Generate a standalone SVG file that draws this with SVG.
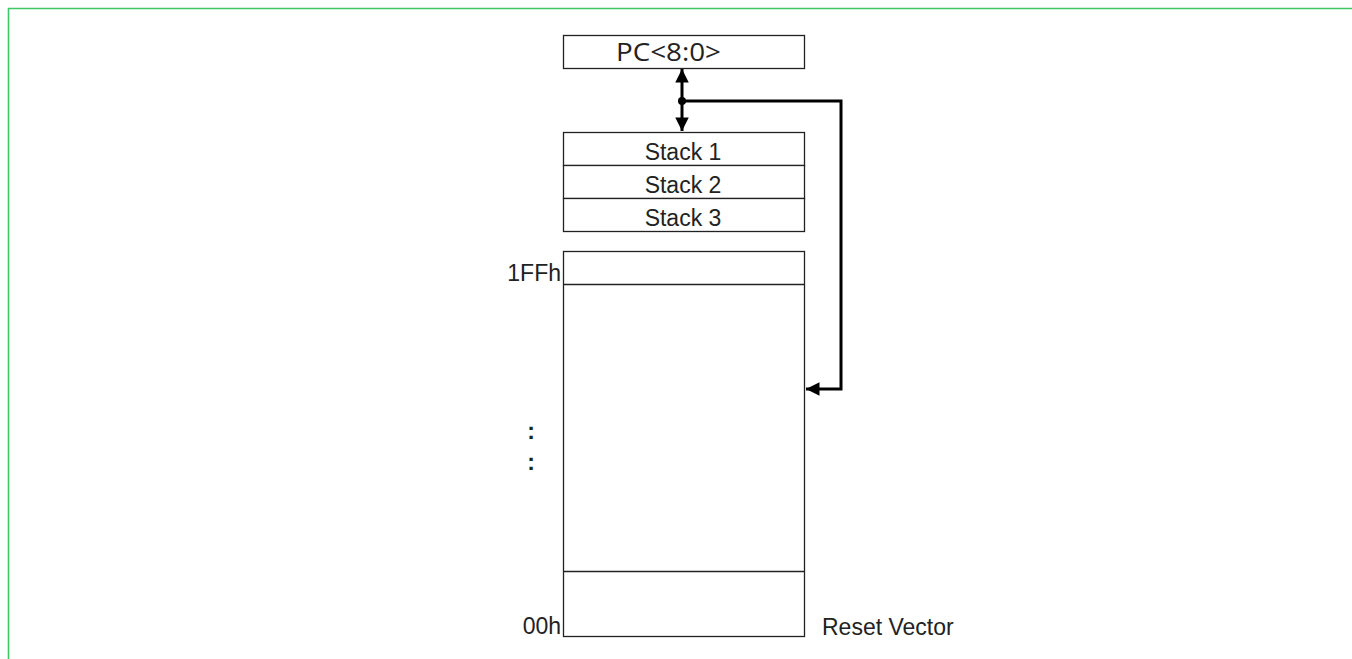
<svg xmlns="http://www.w3.org/2000/svg" width="1352" height="659" viewBox="0 0 1352 659">
<defs>
<style>
.box{fill:#fff;stroke:#222;stroke-width:1.3}
.t{font-family:"Liberation Sans",Arial,sans-serif;font-size:23px;fill:#222}
.pc{font-family:"Open Sans","Liberation Sans",sans-serif;font-size:26px;fill:#222}
.w{fill:none;stroke:#000;stroke-width:3}
</style>
<marker id="ah" viewBox="0 0 10 10" refX="10" refY="5" markerWidth="4.8" markerHeight="4.5" orient="auto-start-reverse" markerUnits="strokeWidth"><path d="M0,0L10,5L0,10z" fill="#000"/></marker>
</defs>
<rect width="1352" height="659" fill="#fff"/>
<path d="M8.5,659V8.5H1352" fill="none" stroke="#3cc864" stroke-width="1.6"/>
<g id="pc"><rect class="box" x="563.5" y="35.5" width="241" height="33"/>
<text class="pc" x="616" y="61" textLength="105" lengthAdjust="spacingAndGlyphs">PC&lt;8:0&gt;</text></g>
<g id="stack1"><rect class="box" x="563.5" y="132.5" width="241" height="33"/><text class="t" x="683" y="160" text-anchor="middle">Stack 1</text></g>
<g id="stack2"><rect class="box" x="563.5" y="165.5" width="241" height="33"/><text class="t" x="683" y="193" text-anchor="middle">Stack 2</text></g>
<g id="stack3"><rect class="box" x="563.5" y="198.5" width="241" height="33"/><text class="t" x="683" y="226" text-anchor="middle">Stack 3</text></g>
<g id="memory">
<rect class="box" x="563.5" y="251.5" width="241" height="385"/>
<line class="box" x1="563.5" y1="284.5" x2="804.5" y2="284.5"/>
<line class="box" x1="563.5" y1="571.5" x2="804.5" y2="571.5"/>
<text class="t" x="561" y="281" text-anchor="end">1FFh</text>
<text class="t" x="561" y="634" text-anchor="end">00h</text>
<text class="t" x="822" y="635">Reset Vector</text>
<text class="t" x="531" y="439" text-anchor="middle" font-weight="bold">:</text>
<text class="t" x="531" y="470" text-anchor="middle" font-weight="bold">:</text>
</g>
<g id="connectors">
<line class="w" x1="682" y1="69" x2="682" y2="131" marker-start="url(#ah)" marker-end="url(#ah)"/>
<circle cx="682" cy="101" r="4" fill="#000"/>
<polyline class="w" points="682,101 841,101 841,389 806,389" marker-end="url(#ah)"/>
</g>
</svg>
